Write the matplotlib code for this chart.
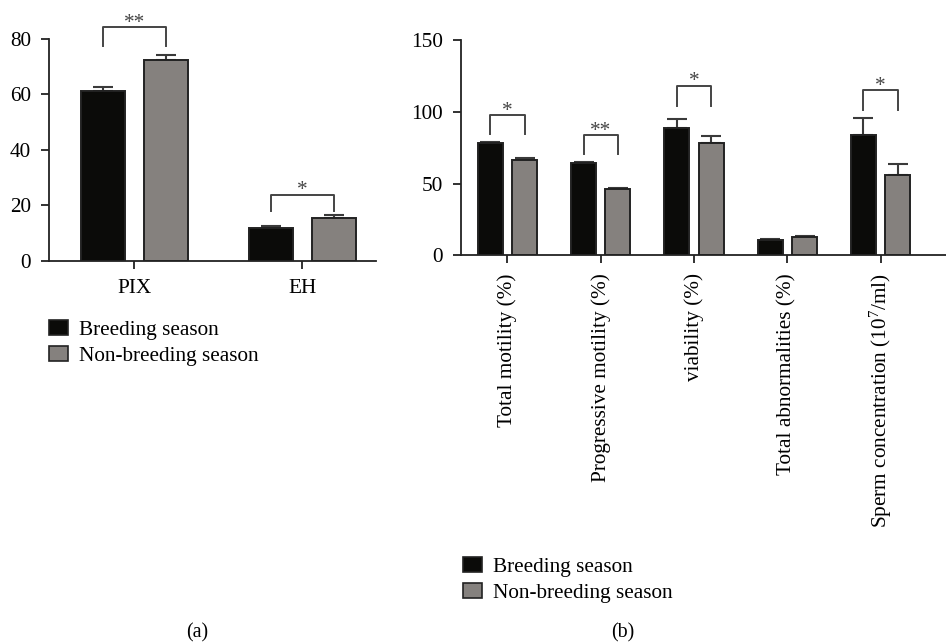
import numpy as np
import matplotlib
matplotlib.use('Agg')
import matplotlib.pyplot as plt
from matplotlib.patches import Patch

plt.rcParams['font.family'] = ['Liberation Serif', 'DejaVu Serif']
plt.rcParams['mathtext.fontset'] = 'custom'
plt.rcParams['mathtext.rm'] = 'Liberation Serif'
plt.rcParams['mathtext.it'] = 'Liberation Serif:italic'

# Dades panell (a)
a_groups = ['PIX', 'EH']
a_breeding = [61.4, 12.0]
a_breeding_err = [1.2, 0.5]
a_nonbreeding = [72.3, 15.4]
a_nonbreeding_err = [1.9, 1.0]
# (grup, base de les potes, alt del claudator, etiqueta)
a_brackets = [(0, 77.6, 84.2, '**'), (1, 18.0, 23.9, '*')]

# Dades panell (b)
b_groups = ['Total motility (%)', 'Progressive motility (%)', 'viability (%)',
            'Total abnormalities (%)', 'Sperm concentration (10$^{7}$/ml)']
b_breeding = [78.5, 64.3, 88.9, 10.7, 83.6]
b_breeding_err = [0.7, 0.7, 6.3, 0.9, 12.3]
b_nonbreeding = [66.6, 46.0, 78.5, 12.7, 56.2]
b_nonbreeding_err = [1.0, 0.9, 4.9, 1.0, 7.6]
b_brackets = [(0, 84.3, 97.5, '*'), (1, 70.6, 83.8, '**'),
              (2, 104.0, 118.0, '*'), (4, 101.3, 115.0, '*')]

series_names = ['Breeding season', 'Non-breeding season']
c_black = '#0b0b09'
c_gray = '#85817e'
c_edge = '#222222'
fs = 15.3


def draw_panel(ax, groups, v1, e1, v2, e2, brackets, off, width):
    x = np.arange(len(groups))
    for vals, errs, col, sgn in [(v1, e1, c_black, -1), (v2, e2, c_gray, 1)]:
        ax.bar(x + sgn * off, vals, width, color=col, edgecolor=c_edge, linewidth=1.4, zorder=2)
        ax.errorbar(x + sgn * off, vals, yerr=[np.zeros(len(vals)), errs], fmt='none',
                    ecolor='#3a3a3a', elinewidth=1.5, capsize=7, capthick=1.5, zorder=1)
    for g, low, top, lab in brackets:
        xl, xr = g - off, g + off
        ax.plot([xl, xl, xr, xr], [low, top, top, low], color='#444444', lw=1.4,
                clip_on=False, zorder=3)
        ax.annotate(lab, (g, top), xytext=(0, -4), textcoords='offset points',
                    ha='center', va='bottom', fontsize=fs, color='#444444',
                    annotation_clip=False)
    ax.set_xticks(x)
    for s in ['top', 'right']:
        ax.spines[s].set_visible(False)
    for s in ['left', 'bottom']:
        ax.spines[s].set_linewidth(1.3)
        ax.spines[s].set_color(c_edge)
    ax.tick_params(length=6, width=1.3, color=c_edge, labelsize=fs, pad=7)
    return x


fig = plt.figure(figsize=(9.46, 6.42), dpi=100)

# Panell (a)
axa = fig.add_axes([0.0521, 0.5935, 0.3455, 0.3458])
draw_panel(axa, a_groups, a_breeding, a_breeding_err, a_nonbreeding, a_nonbreeding_err,
           a_brackets, 0.1875, 0.262)
axa.set_xticklabels(a_groups)
axa.set_ylim(0, 80)
axa.set_yticks([0, 20, 40, 60, 80])
axa.set_xlim(-0.506, 1.44)

# Panell (b)
axb = fig.add_axes([0.487, 0.6023, 0.513, 0.3354])
draw_panel(axb, b_groups, b_breeding, b_breeding_err, b_nonbreeding, b_nonbreeding_err,
           b_brackets, 0.184, 0.27)
axb.set_xticklabels(b_groups, rotation=90)
axb.set_ylim(0, 150)
axb.set_yticks([0, 50, 100, 150])
axb.set_xlim(-0.5, 4.7)

handles = [Patch(facecolor=c_black, edgecolor=c_edge, linewidth=1.2),
           Patch(facecolor=c_gray, edgecolor=c_edge, linewidth=1.2)]
for ax, pos in [(axa, (49 / 946, 1 - 320 / 642)), (axb, (463 / 946, 1 - 557 / 642))]:
    ax.legend(handles, series_names, loc='upper left', bbox_to_anchor=pos,
              bbox_transform=fig.transFigure, frameon=False, fontsize=fs,
              handlelength=0.9, handleheight=0.7, handletextpad=0.5,
              labelspacing=0.3, borderpad=0, borderaxespad=0)

fig.text(197 / 946, 1 - 633 / 642, '(a)', ha='center', va='center', fontsize=fs - 1)
fig.text(623 / 946, 1 - 633 / 642, '(b)', ha='center', va='center', fontsize=fs - 1)

fig.savefig('out.png', dpi=100)
